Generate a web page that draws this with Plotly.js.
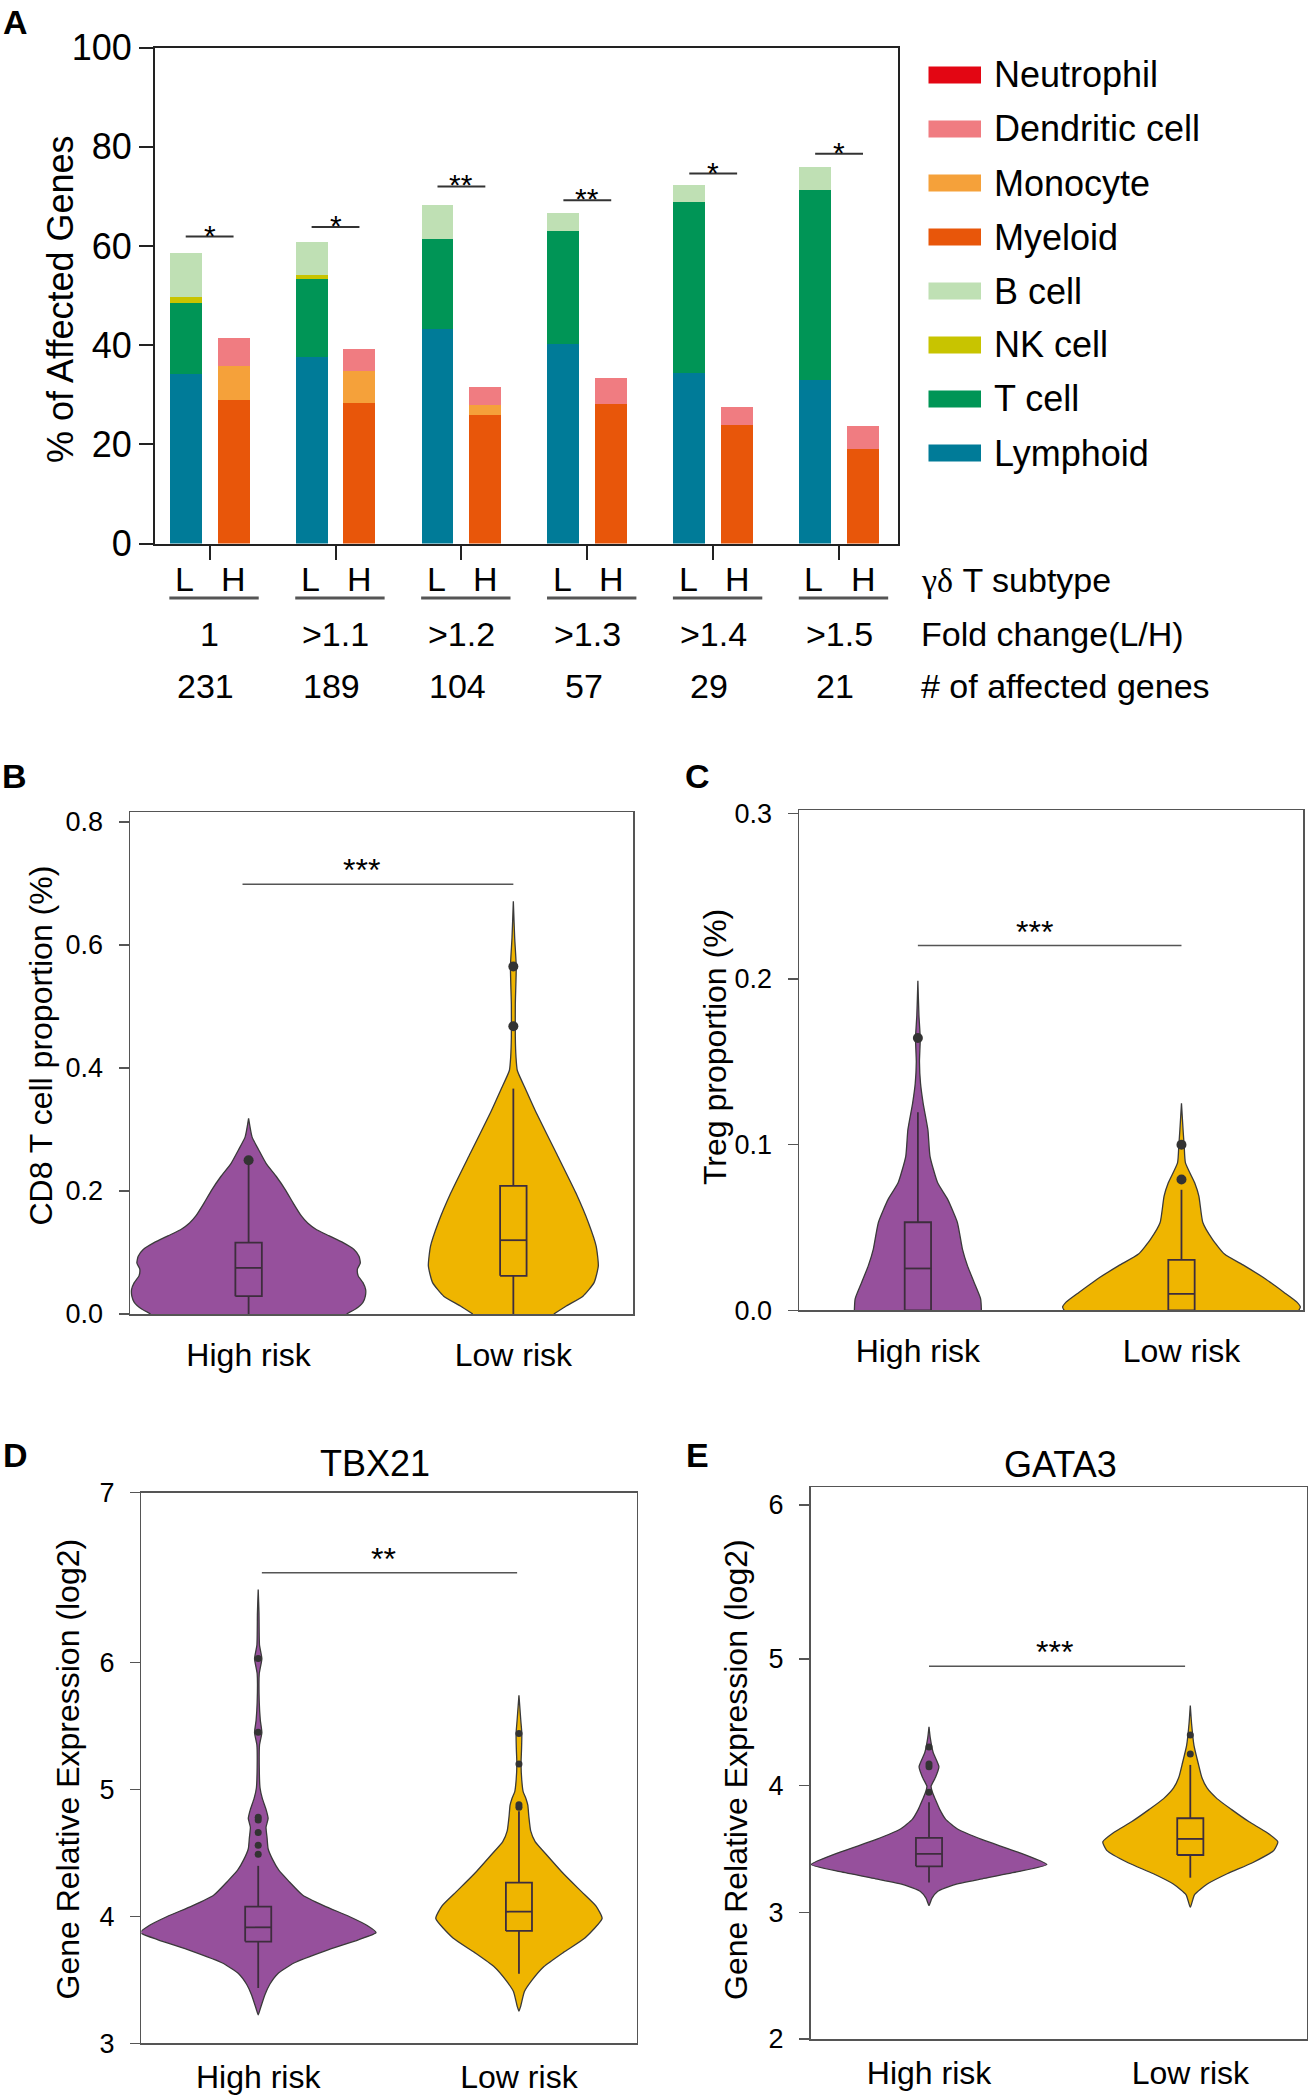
<!DOCTYPE html>
<html>
<head>
<meta charset="utf-8">
<script src="https://cdn.plot.ly/plotly-3.0.1.min.js"></script>
<style>html,body{margin:0;padding:0;background:#fff}</style>
</head>
<body>
<div id="chart" style="width:1308px;height:2100px"></div>
<script>
// ================= Panel A data =================
const foldChange    = ['1', '>1.1', '>1.2', '>1.3', '>1.4', '>1.5'];
const affectedGenes = ['231', '189', '104', '57', '29', '21'];
// L subtype bars (stacked bottom -> top)
const lymphoid   = [34.2, 37.6, 43.2, 40.3, 34.4, 33.0];
const tCell      = [14.2, 15.8, 18.3, 22.7, 34.5, 38.2];
const nkCell     = [1.3, 0.7, 0, 0, 0, 0];
const bCell      = [8.8, 6.7, 6.7, 3.6, 3.4, 4.7];
// H subtype bars (stacked bottom -> top)
const myeloid    = [28.9, 28.4, 25.9, 28.1, 24.0, 19.0];
const monocyte   = [7.0, 6.4, 2.0, 0, 0, 0];
const dendritic  = [5.6, 4.4, 3.7, 5.3, 3.6, 4.7];
const neutrophil = [0, 0, 0, 0, 0, 0];
const sigLevelA  = [61.9, 63.8, 72.0, 69.2, 74.6, 78.6];
const sigTextA   = ['*', '*', '**', '**', '*', '*'];
const legendNames = ['Neutrophil', 'Dendritic cell', 'Monocyte', 'Myeloid', 'B cell', 'NK cell', 'T cell', 'Lymphoid'];

// ================= Violin panels =================
const groups = ['High risk', 'Low risk'];
// B: CD8 T cell proportion  (value, half-width of density)
const cd8HighY = [0, 0.008, 0.019, 0.029, 0.040, 0.051, 0.062, 0.073, 0.083, 0.094, 0.105, 0.116, 0.127, 0.137, 0.148, 0.159, 0.180, 0.202, 0.224, 0.245, 0.267, 0.288, 0.318];
const cd8HighW = [0.370, 0.404, 0.432, 0.441, 0.442, 0.432, 0.414, 0.411, 0.422, 0.417, 0.398, 0.357, 0.305, 0.257, 0.223, 0.200, 0.169, 0.139, 0.104, 0.066, 0.038, 0.013, 0];
const cd8LowY  = [0, 0.013, 0.029, 0.051, 0.078, 0.110, 0.148, 0.197, 0.261, 0.326, 0.364, 0.396, 0.418, 0.450, 0.504, 0.565, 0.612, 0.671];
const cd8LowW  = [0.153, 0.200, 0.263, 0.305, 0.321, 0.313, 0.284, 0.236, 0.163, 0.088, 0.048, 0.015, 0.010, 0.0075, 0.0075, 0.011, 0.005, 0];
const cd8Q1 = [0.029, 0.062], cd8Med = [0.075, 0.120], cd8Q3 = [0.116, 0.2085], cd8Lo = [0, 0], cd8Hi = [0.243, 0.3665];
const cd8OutHigh = [0.250], cd8OutLow = [0.468, 0.565];
const cd8Sig = 0.699;

// C: Treg proportion
const tregHighY = [0, 0.007, 0.017, 0.027, 0.037, 0.053, 0.067, 0.077, 0.093, 0.109, 0.125, 0.137, 0.150, 0.164, 0.178, 0.199];
const tregHighW = [0.241, 0.238, 0.213, 0.188, 0.169, 0.150, 0.113, 0.075, 0.046, 0.038, 0.020, 0.010, 0.006, 0.009, 0.004, 0];
const tregLowY  = [0, 0.002, 0.005, 0.011, 0.019, 0.027, 0.034, 0.043, 0.053, 0.069, 0.077, 0.089, 0.100, 0.109, 0.125];
const tregLowW  = [0.445, 0.451, 0.438, 0.388, 0.319, 0.238, 0.163, 0.117, 0.081, 0.066, 0.050, 0.015, 0.010, 0.006, 0];
const tregQ1 = [0, 0], tregMed = [0.0253, 0.010], tregQ3 = [0.0532, 0.0305], tregLo = [0, 0], tregHi = [0.1196, 0.0728];
const tregOutHigh = [0.1644], tregOutLow = [0.079, 0.100];
const tregSig = 0.2202;

// D: TBX21
const tbxHighY = [3.225, 3.267, 3.380, 3.464, 3.549, 3.633, 3.731, 3.816, 3.872, 3.928, 3.999, 4.083, 4.167, 4.280, 4.364, 4.449, 4.533, 4.617, 4.702, 4.772, 4.843, 4.927, 5.011, 5.180, 5.349, 5.447, 5.546, 5.686, 5.911, 6.029, 6.136, 6.389, 6.575];
const tbxHighW = [0, 0.007, 0.025, 0.044, 0.075, 0.137, 0.260, 0.384, 0.452, 0.418, 0.349, 0.253, 0.171, 0.116, 0.079, 0.055, 0.038, 0.034, 0.030, 0.038, 0.030, 0.016, 0.007, 0.004, 0.005, 0.014, 0.008, 0.004, 0.004, 0.014, 0.005, 0.003, 0];
const tbxLowY  = [3.254, 3.295, 3.408, 3.492, 3.605, 3.717, 3.830, 3.984, 4.083, 4.195, 4.336, 4.476, 4.589, 4.673, 4.786, 4.876, 4.927, 4.983, 5.067, 5.202, 5.320, 5.441, 5.546, 5.742];
const tbxLowW  = [0, 0.007, 0.021, 0.048, 0.096, 0.171, 0.253, 0.319, 0.295, 0.240, 0.171, 0.110, 0.062, 0.045, 0.038, 0.034, 0.027, 0.016, 0.011, 0.008, 0.010, 0.011, 0.007, 0];
const tbxQ1 = [3.802, 3.886], tbxMed = [3.914, 4.037], tbxQ3 = [4.077, 4.266], tbxLo = [3.436, 3.549], tbxHi = [4.398, 4.828];
const tbxOutHigh = [4.49, 4.56, 4.66, 4.76, 4.78, 5.45, 6.03], tbxOutLow = [4.86, 4.88, 5.20, 5.44];
const tbxSig = 6.707;

// E: GATA3
const gataHighY = [3.054, 3.110, 3.166, 3.217, 3.264, 3.320, 3.377, 3.475, 3.573, 3.657, 3.733, 3.812, 3.897, 3.953, 3.995, 4.065, 4.149, 4.261, 4.374, 4.464];
const gataHighW = [0, 0.011, 0.034, 0.095, 0.204, 0.340, 0.451, 0.340, 0.204, 0.109, 0.064, 0.041, 0.023, 0.012, 0.008, 0.025, 0.038, 0.016, 0.005, 0];
const gataLowY  = [3.040, 3.138, 3.223, 3.306, 3.391, 3.489, 3.556, 3.630, 3.714, 3.812, 3.897, 3.981, 4.065, 4.178, 4.318, 4.486, 4.632];
const gataLowW  = [0, 0.016, 0.065, 0.143, 0.238, 0.320, 0.335, 0.293, 0.225, 0.157, 0.102, 0.064, 0.044, 0.030, 0.014, 0.005, 0];
const gataQ1 = [3.363, 3.452], gataMed = [3.461, 3.579], gataQ3 = [3.587, 3.742], gataLo = [3.236, 3.273], gataHi = [3.868, 4.163];
const gataOutHigh = [3.947, 4.149, 4.17, 4.304], gataOutLow = [4.25, 4.40];
const gataSig = 4.942;

// ================= Styling =================
const W = 1308, H = 2100;
const px = v => v / W;
const py = v => 1 - v / H;
const FONT = 'Liberation Sans, Arial, Helvetica, sans-serif';
const colors = {
  'Neutrophil': '#e30613', 'Dendritic cell': '#f07c81', 'Monocyte': '#f5a13a', 'Myeloid': '#e8560a',
  'B cell': '#bfe0b4', 'NK cell': '#c8c400', 'T cell': '#009556', 'Lymphoid': '#007b98'
};
const PURPLE = '#96509c', GOLD = '#efb500', BOXC = '#3d2d3d';
const LOFF = -0.19, HOFF = 0.19, BARW = 0.254, BOXHW = 0.05;

const Lx = foldChange.map((_, i) => i + LOFF);
const Hx = foldChange.map((_, i) => i + HOFF);

const traces = [];
function bar(x, y, name) {
  return {type: 'bar', x, y, name, width: BARW, marker: {color: colors[name], line: {width: 0}},
          xaxis: 'x', yaxis: 'y', showlegend: false, hoverinfo: 'skip'};
}
traces.push(bar(Lx, lymphoid, 'Lymphoid'));
traces.push(bar(Lx, tCell, 'T cell'));
traces.push(bar(Lx, nkCell, 'NK cell'));
traces.push(bar(Lx, bCell, 'B cell'));
traces.push(bar(Hx, myeloid, 'Myeloid'));
traces.push(bar(Hx, monocyte, 'Monocyte'));
traces.push(bar(Hx, dendritic, 'Dendritic cell'));
traces.push(bar(Hx, neutrophil, 'Neutrophil'));

function violin(center, ys, ws, color, xa, ya) {
  const x = ys.map((y, i) => center - ws[i]).concat(ys.map((y, i) => center + ws[i]).reverse());
  const y = ys.concat(ys.slice().reverse());
  return {type: 'scatter', mode: 'lines', x, y, fill: 'toself', fillcolor: color,
          line: {color: '#3a3a3a', width: 1.3, shape: 'spline', smoothing: 0.5},
          xaxis: xa, yaxis: ya, hoverinfo: 'skip', showlegend: false};
}
// box-and-whisker drawn from the precomputed statistics
function boxLines(q1, med, q3, lo, hi, xa, ya) {
  const x = [], y = [];
  [0, 1].forEach((c, i) => {
    x.push(c - BOXHW, c + BOXHW, c + BOXHW, c - BOXHW, c - BOXHW, null); y.push(q1[i], q1[i], q3[i], q3[i], q1[i], null);
    x.push(c - BOXHW, c + BOXHW, null); y.push(med[i], med[i], null);
    x.push(c, c, null); y.push(q3[i], hi[i], null);
    x.push(c, c, null); y.push(lo[i], q1[i], null);
  });
  return {type: 'scatter', mode: 'lines', x, y, connectgaps: false, line: {color: BOXC, width: 1.8},
          xaxis: xa, yaxis: ya, hoverinfo: 'skip', showlegend: false};
}
function outliers(center, vals, xa, ya, size) {
  return {type: 'scatter', mode: 'markers', x: vals.map(() => center), y: vals,
          marker: {color: '#333333', size}, xaxis: xa, yaxis: ya, hoverinfo: 'skip', showlegend: false, cliponaxis: false};
}

traces.push(violin(0, cd8HighY, cd8HighW, PURPLE, 'x2', 'y2'));
traces.push(violin(1, cd8LowY, cd8LowW, GOLD, 'x2', 'y2'));
traces.push(boxLines(cd8Q1, cd8Med, cd8Q3, cd8Lo, cd8Hi, 'x2', 'y2'));
traces.push(outliers(0, cd8OutHigh, 'x2', 'y2', 10));
traces.push(outliers(1, cd8OutLow, 'x2', 'y2', 10));

traces.push(violin(0, tregHighY, tregHighW, PURPLE, 'x3', 'y3'));
traces.push(violin(1, tregLowY, tregLowW, GOLD, 'x3', 'y3'));
traces.push(boxLines(tregQ1, tregMed, tregQ3, tregLo, tregHi, 'x3', 'y3'));
traces.push(outliers(0, tregOutHigh, 'x3', 'y3', 10));
traces.push(outliers(1, tregOutLow, 'x3', 'y3', 10));

traces.push(violin(0, tbxHighY, tbxHighW, PURPLE, 'x4', 'y4'));
traces.push(violin(1, tbxLowY, tbxLowW, GOLD, 'x4', 'y4'));
traces.push(boxLines(tbxQ1, tbxMed, tbxQ3, tbxLo, tbxHi, 'x4', 'y4'));
traces.push(outliers(0, tbxOutHigh, 'x4', 'y4', 7));
traces.push(outliers(1, tbxOutLow, 'x4', 'y4', 7));

traces.push(violin(0, gataHighY, gataHighW, PURPLE, 'x5', 'y5'));
traces.push(violin(1, gataLowY, gataLowW, GOLD, 'x5', 'y5'));
traces.push(boxLines(gataQ1, gataMed, gataQ3, gataLo, gataHi, 'x5', 'y5'));
traces.push(outliers(0, gataOutHigh, 'x5', 'y5', 7));
traces.push(outliers(1, gataOutLow, 'x5', 'y5', 7));

// ================= Layout =================
const axA = {showgrid: false, zeroline: false, showline: true, linecolor: '#222', linewidth: 2, mirror: true,
             ticks: 'outside', ticklen: 14, tickwidth: 2, tickcolor: '#222'};
function vx(dom, range, anchor, standoff) {
  return {domain: dom, range, anchor, tickvals: [0, 1], ticktext: groups, ticks: '', showgrid: false, zeroline: false,
          showline: true, linecolor: '#555', linewidth: 1.5, mirror: true, tickfont: {size: 32}, ticklabelstandoff: standoff};
}
function vy(dom, range, anchor, tv, tt) {
  return {domain: dom, range, anchor, tickvals: tv, ticktext: tt, ticks: 'outside', ticklen: 10, tickwidth: 1.5,
          tickcolor: '#555', showgrid: false, zeroline: false, showline: true, linecolor: '#555', linewidth: 1.5,
          mirror: true, tickfont: {size: 27}, ticklabelstandoff: 10};
}

const layout = {
  width: W, height: H, margin: {l: 0, r: 0, t: 0, b: 0}, autosize: false,
  paper_bgcolor: '#ffffff', plot_bgcolor: 'rgba(0,0,0,0)',
  font: {family: FONT, color: '#000'}, barmode: 'stack', showlegend: false,
  xaxis: Object.assign({}, axA, {domain: [px(155), px(898)], range: [-0.434, 5.468], tickvals: [0, 1, 2, 3, 4, 5],
                                 showticklabels: false, anchor: 'y'}),
  yaxis: Object.assign({}, axA, {domain: [py(543.6), py(47.5)], range: [0, 100], tickvals: [0, 20, 40, 60, 80, 100],
                                 tickfont: {size: 36}, anchor: 'x'}),
  xaxis2: vx([px(130), px(633)], [-0.448, 1.452], 'y2', 12),
  yaxis2: vy([py(1314), py(812)], [0, 0.8163], 'x2', [0, 0.2, 0.4, 0.6, 0.8], ['0.0', '0.2', '0.4', '0.6', '0.8']),
  xaxis3: vx([px(799), px(1303)], [-0.451, 1.461], 'y3', 12),
  yaxis3: vy([py(1310.4), py(810)], [0, 0.302], 'x3', [0, 0.1, 0.2, 0.3], ['0.0', '0.1', '0.2', '0.3']),
  xaxis4: vx([px(141.4), px(636.8)], [-0.448, 1.452], 'y4', 5),
  yaxis4: vy([py(2043.4), py(1492.5)], [3, 7.338], 'x4', [3, 4, 5, 6, 7.338], ['3', '4', '5', '6', '7']),
  xaxis5: vx([px(810.5), px(1307)], [-0.4535, 1.4466], 'y5', 5),
  yaxis5: vy([py(2039), py(1487.3)], [2, 6.354], 'x5', [2, 3, 4, 5, 6.215], ['2', '3', '4', '5', '6']),
  shapes: [], annotations: []
};

const ann = layout.annotations, shp = layout.shapes;
function txt(text, x, y, size, opts) {
  ann.push(Object.assign({text, x, y, xref: 'paper', yref: 'paper', showarrow: false, font: {size, family: FONT, color: '#000'},
                          xanchor: 'center', yanchor: 'middle'}, opts || {}));
}

// Panel A significance lines and stars, bottom labels
foldChange.forEach((f, i) => {
  shp.push({type: 'line', xref: 'x', yref: 'y', x0: i + LOFF, x1: i + HOFF, y0: sigLevelA[i], y1: sigLevelA[i],
            line: {color: '#333', width: 2}});
  ann.push({text: sigTextA[i], x: i, y: sigLevelA[i], xref: 'x', yref: 'y', showarrow: false, yanchor: 'bottom',
            yshift: -17, font: {size: 30, family: FONT, color: '#000'}});
  ann.push({text: 'L', x: i - 0.2, y: py(579), xref: 'x', yref: 'paper', showarrow: false, yanchor: 'middle', font: {size: 34, family: FONT}});
  ann.push({text: 'H', x: i + HOFF, y: py(579), xref: 'x', yref: 'paper', showarrow: false, yanchor: 'middle', font: {size: 34, family: FONT}});
  shp.push({type: 'line', xref: 'x', yref: 'paper', x0: i - 0.32, x1: i + 0.39, y0: py(598), y1: py(598), line: {color: '#555', width: 3}});
  ann.push({text: f, x: i, y: py(634), xref: 'x', yref: 'paper', showarrow: false, yanchor: 'middle', font: {size: 34, family: FONT}});
  ann.push({text: affectedGenes[i], x: i - 0.03, y: py(686), xref: 'x', yref: 'paper', showarrow: false, yanchor: 'middle', font: {size: 34, family: FONT}});
});
txt('<span style="font-family:Liberation Serif, serif">γδ</span> T subtype', px(919), py(580), 34, {xanchor: 'left'});
txt('Fold change(L/H)', px(919), py(634), 34, {xanchor: 'left'});
txt('# of affected genes', px(919), py(686), 34, {xanchor: 'left'});

// Panel A legend (custom wide swatches)
legendNames.forEach((n, i) => {
  const cy = 75 + 54 * i;
  shp.push({type: 'rect', xref: 'paper', yref: 'paper', x0: px(928.5), x1: px(981), y0: py(cy + 8.5), y1: py(cy - 8.5),
            fillcolor: colors[n], line: {width: 0}});
  txt(n, px(991.5), py(cy), 36, {xanchor: 'left'});
});

// Axis titles
txt('% of Affected Genes', px(60), py(299), 36, {textangle: -90});
txt('CD8 T cell proportion (%)', px(41), py(1045.5), 32, {textangle: -90});
txt('Treg proportion (%)', px(714.5), py(1047.5), 32, {textangle: -90});
txt('Gene Relative Expression (log2)', px(67), py(1769.5), 32, {textangle: -90});
txt('Gene Relative Expression (log2)', px(735.5), py(1769.5), 32, {textangle: -90});
txt('TBX21', px(374.5), py(1463.5), 36);
txt('GATA3', px(1060), py(1464.7), 36);

// Panel letters
txt('<b>A</b>', px(15), py(1), 34, {yanchor: 'top'});
[['B', 14.6, 776], ['C', 697.6, 776], ['D', 15, 1455], ['E', 697, 1455]].forEach(p => {
  txt('<b>' + p[0] + '</b>', px(p[1]), py(p[2]), 34);
});

// Violin significance bars
[['x2', 'y2', cd8Sig, -0.023, 1.0, 0.428], ['x3', 'y3', tregSig, 0.0, 1.0, 0.443],
 ['x4', 'y4', tbxSig, 0.014, 0.993, 0.479], ['x5', 'y5', gataSig, 0.0, 0.98, 0.48]].forEach((s, k) => {
  shp.push({type: 'line', xref: s[0], yref: s[1], x0: s[3], x1: s[4], y0: s[2], y1: s[2], line: {color: '#555', width: 1.5}});
  ann.push({text: k === 2 ? '**' : '***', x: s[5], y: s[2], xref: s[0], yref: s[1], showarrow: false, yanchor: 'bottom',
            yshift: -6, font: {size: 32, family: FONT, color: '#000'}});
});

Plotly.newPlot('chart', traces, layout, {staticPlot: true, displayModeBar: false});
</script>
</body>
</html>
